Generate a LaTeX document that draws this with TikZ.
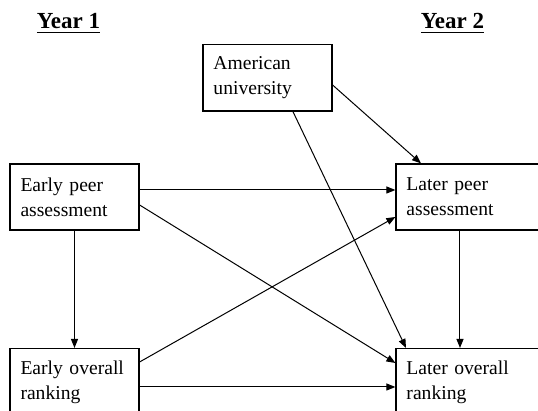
\documentclass[tikz,border=0pt]{standalone}
\usepackage{fontspec}
\setmainfont{Liberation Serif}
\usetikzlibrary{arrows.meta}

\tikzset{
  var/.style={draw, line width=0.6pt, text width=54pt, inner xsep=5.25pt, inner ysep=6pt,
    minimum height=33pt, align=left, font=\fontsize{9.8}{12.5}\selectfont},
  later/.style={var, text width=64.5pt},
  year/.style={anchor=base, font=\fontsize{11.5}{13}\selectfont\bfseries},
  >={Triangle[length=4.5pt,width=3.5pt]}
}

\begin{document}
\begin{tikzpicture}[node distance=198.25pt, line width=0.5pt]
\useasboundingbox (0,0) rectangle (269pt,-205.5pt);
\clip (0,0) rectangle (269pt,-205.5pt);
\node[year] (y1) at (34.25pt,-14.5pt) {\underline{Year 1}};
\node[year] (y2) at (226.25pt,-14.5pt) {\underline{Year 2}};
\node[var] (ep) at (37.25pt,-98.5pt) {Early peer\\assessment};
\node[var] (eo) [below of=ep, node distance=92.5pt] {Early overall\\ranking};
\node[later] (lp) [right of=ep] {Later peer\\assessment};
\node[later] (lo) [right of=eo] {Later overall\\ranking};
\node[var] (am) at (133.75pt,-39pt) {American\\university};

\draw[->] ([yshift=3.5pt]ep.east) to ([yshift=3.5pt]lp.west);
\draw[->] ([yshift=-4pt]ep.east) to ([yshift=9.5pt]lo.west);
\draw[->] (ep) to (eo);
\draw[->] ([yshift=10pt]eo.east) to ([yshift=-10pt]lp.west);
\draw[->] ([yshift=-2.5pt]eo.east) to ([yshift=-2.5pt]lo.west);
\draw[->] ([xshift=12.75pt]am.south) to ([xshift=-32.5pt]lo.north);
\draw[->] ([yshift=-3.5pt]am.east) to ([xshift=-25pt]lp.north);
\draw[->] ([xshift=-5.5pt]lp.south) to ([xshift=-5.5pt]lo.north);
\end{tikzpicture}
\end{document}
